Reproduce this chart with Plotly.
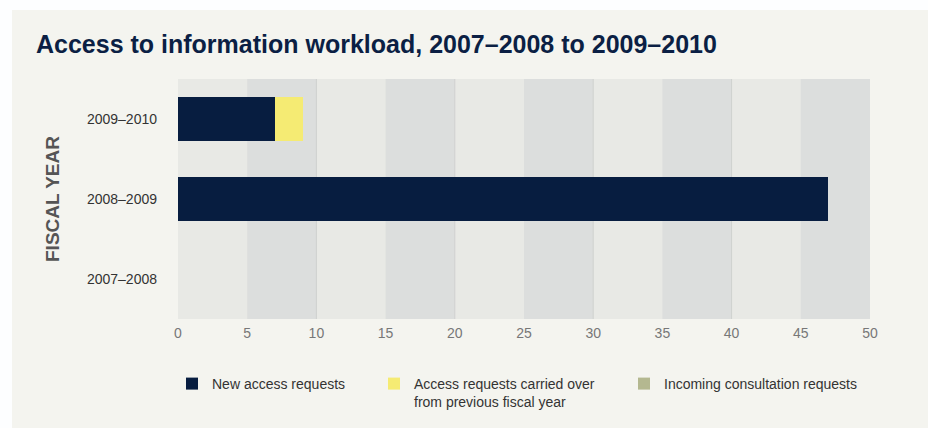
import plotly.graph_objects as go

# ---- data ----
fiscal_years = ["2007–2008", "2008–2009", "2009–2010"]
new_access = [0, 47, 7]
carried_over = [0, 0, 2]
consultation = [0, 0, 0]
series_names = ["New access requests",
                "Access requests carried over<br>from previous fiscal year",
                "Incoming consultation requests"]
series_colors = ["#071d40", "#f5eb73", "#b4b890"]
x_ticks = list(range(0, 51, 5))
grid_vals = [10, 20, 30, 40]
dark_bands = [(5, 10), (15, 20), (25, 30), (35, 40), (45, 50)]

SANS = "Liberation Sans, Arial, sans-serif"

# figure geometry (page pixel coordinates, body margin removed)
W, H = 928, 428
L, R, T, B = 178, 58, 79, 109
pw, ph = W - L - R, H - T - B
def px2x(p): return (p - L) / pw
def py2y(p): return (H - B - p) / ph

fig = go.Figure()
for vals, name, col, lg in zip([new_access, carried_over, consultation],
                               series_names, series_colors,
                               ["legend", "legend2", "legend3"]):
    fig.add_trace(go.Bar(y=fiscal_years, x=vals, name=name, orientation="h",
                         marker=dict(color=col, line=dict(width=0)),
                         width=0.55, legend=lg, showlegend=True,
                         hoverinfo="x+name"))

shapes = []
shapes.append(dict(type="rect", xref="paper", yref="paper", layer="below",
                   x0=px2x(-10), x1=px2x(12), y0=py2y(H + 10), y1=py2y(-10),
                   fillcolor="#fdfeff", line=dict(width=0)))
shapes.append(dict(type="rect", xref="paper", yref="paper", layer="below",
                   x0=px2x(-10), x1=px2x(W + 10), y0=py2y(10), y1=py2y(-10),
                   fillcolor="#fdfeff", line=dict(width=0)))
for a, b in dark_bands:
    shapes.append(dict(type="rect", xref="x", yref="paper", layer="below",
                       x0=a, x1=b, y0=0, y1=1, fillcolor="#dcdedd",
                       line=dict(width=0)))
for g in grid_vals:
    shapes.append(dict(type="line", xref="x", yref="paper", layer="below",
                       x0=g, x1=g, y0=0, y1=1,
                       line=dict(color="#cfd1cf", width=1)))

legend_common = dict(orientation="h", yanchor="top", xanchor="left",
                     yref="container", y=1 - 368 / H,
                     bgcolor="rgba(0,0,0,0)",
                     font=dict(family=SANS, size=14, color="#333333"),
                     valign="top", itemclick=False, itemdoubleclick=False)

fig.update_layout(
    width=W, height=H,
    margin=dict(l=L, r=R, t=T, b=B, autoexpand=False),
    paper_bgcolor="#f4f4ef",
    plot_bgcolor="#e8e9e5",
    barmode="stack",
    bargap=0.45,
    showlegend=True,
    shapes=shapes,
    title=dict(text="<b>Access to information workload, 2007–2008 to 2009–2010</b>",
               x=36 / W, xanchor="left", xref="container",
               y=1 - 44 / H, yanchor="middle", yref="container",
               font=dict(family=SANS, size=25, color="#0b1f44")),
    xaxis=dict(range=[0, 50], tickvals=x_ticks, showgrid=False, zeroline=False,
               showline=False, ticks="", ticklabelstandoff=4, automargin=False,
               tickfont=dict(family=SANS, size=14, color="#777777"),
               fixedrange=True),
    yaxis=dict(categoryorder="array", categoryarray=fiscal_years,
               range=[-0.5, 2.5], showgrid=False, zeroline=False,
               showline=False, ticks="", ticklabelstandoff=20, automargin=False,
               tickfont=dict(family=SANS, size=14, color="#333333"),
               fixedrange=True),
    legend=dict(legend_common, xref="container", x=172 / W),
    legend2=dict(legend_common, xref="container", x=374 / W),
    legend3=dict(legend_common, xref="container", x=624 / W),
    annotations=[dict(text="<b>FISCAL YEAR</b>", textangle=-90,
                      xref="paper", yref="paper", x=px2x(52), y=0.5,
                      xanchor="center", yanchor="middle", showarrow=False,
                      font=dict(family=SANS, size=19, color="#555555"))],
)

fig.write_html("out.html",
               config={"displayModeBar": False},
               post_script="document.body.style.margin='0';"
                           "document.body.style.overflow='hidden';")
